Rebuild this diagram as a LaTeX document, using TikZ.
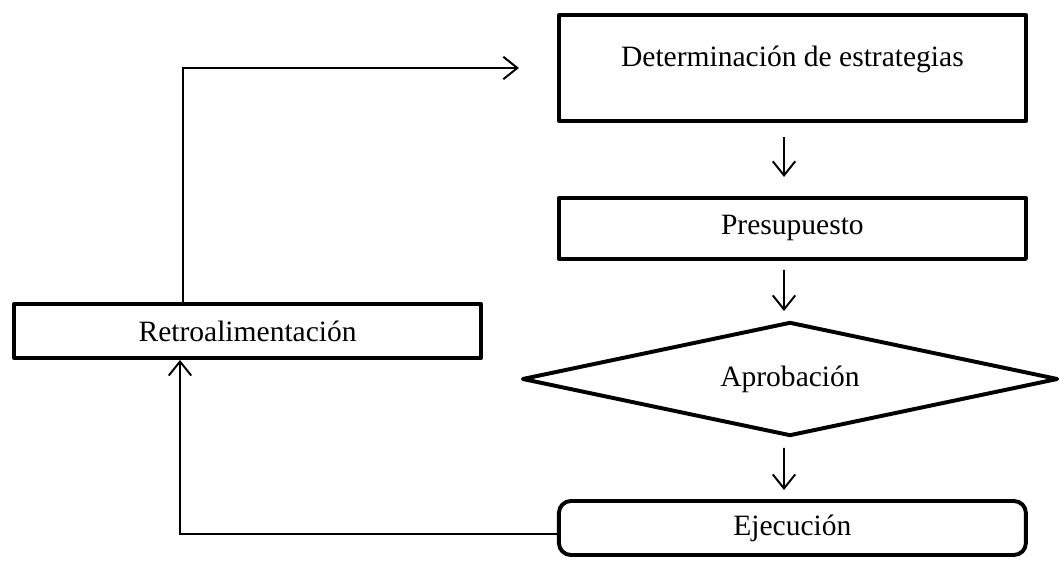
\documentclass[tikz,border=0pt]{standalone}
\usepackage{fontspec}
\setmainfont{Liberation Serif}
\usetikzlibrary{shapes.geometric,arrows.meta}
\begin{document}
\begin{tikzpicture}[caja/.style={draw, line width=2.8pt, line join=round, minimum width=11.675cm, font=\fontsize{21}{25}\selectfont},
		rombo/.style={draw, diamond, aspect=4.7, line width=2.8pt, line join=round, minimum width=13.4cm, minimum height=2.85cm, inner sep=0pt, font=\fontsize{21}{25}\selectfont},
		flecha/.style={line width=1.4pt, -{Straight Barb[length=10pt, width=16pt, line width=1.4pt]}}]
	\useasboundingbox (0,0) rectangle (26.5,14);
	\node[caja, minimum height=2.65cm, text depth=0.6cm] (estrategias) at (19.81,12.3) [] {Determinación de estrategias};
	\node[caja, minimum height=1.525cm] (presupuesto) at (19.81,8.29) [] {Presupuesto};
	\node[rombo] (aprobacion) at (19.75,4.525) [] {Aprobación};
	\node[caja, minimum height=1.35cm, rounded corners=0.3cm] (ejecucion) at (19.81,0.8) [] {Ejecución};
	\node[caja, minimum height=1.35cm] (retro) at (6.19,5.725) [] {Retroalimentación};
	\draw[flecha, shorten <=0.35cm, shorten >=0.475cm] ([xshift=-0.21cm]estrategias.south) -- ([xshift=-0.21cm]presupuesto.north);
	\draw[flecha, shorten <=0.225cm, shorten >=0.225cm] ([xshift=-0.21cm]presupuesto.south) -- ([xshift=-0.15cm]aprobacion.north);
	\draw[flecha, shorten <=0.25cm, shorten >=0.225cm] ([xshift=-0.15cm]aprobacion.south) -- ([xshift=-0.21cm]ejecucion.north);
	\draw[flecha] ([yshift=-0.15cm]ejecucion.west) -| ([xshift=-1.69cm]retro.south);
	\draw[flecha, shorten >=0.95cm] ([xshift=-1.61cm]retro.north) |- (estrategias.west);
\end{tikzpicture}
\end{document}
